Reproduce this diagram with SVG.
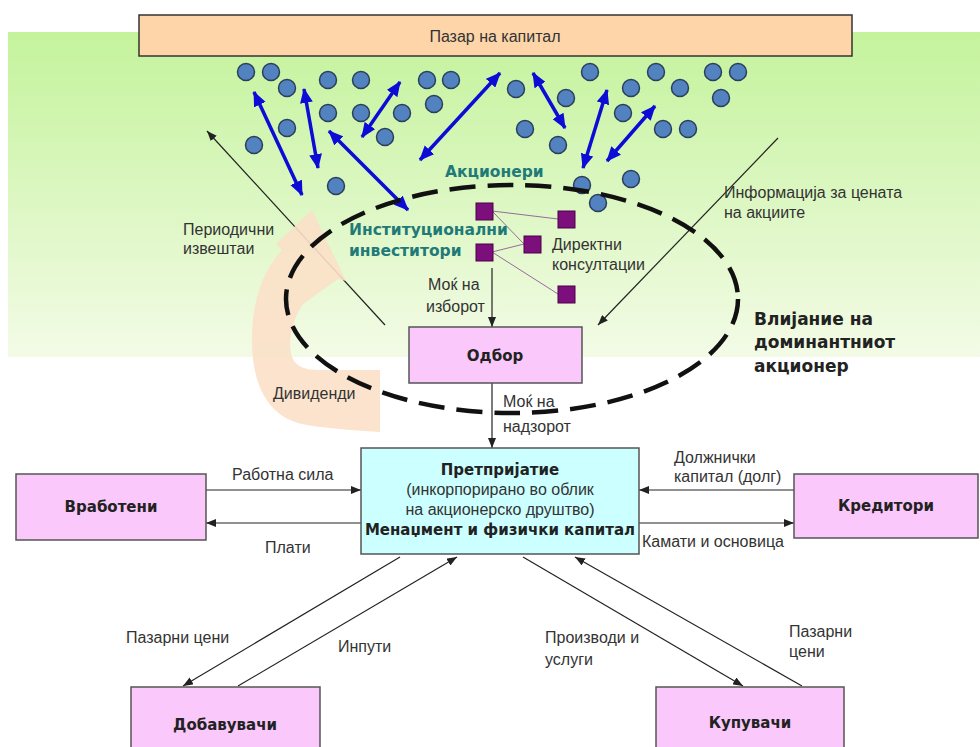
<svg xmlns="http://www.w3.org/2000/svg" width="980" height="747" viewBox="0 0 980 747">
<defs>
<linearGradient id="bg" x1="0" y1="0" x2="0" y2="1">
<stop offset="0" stop-color="#c4f39c"/>
<stop offset="1" stop-color="#f3fbe6"/>
</linearGradient>
<marker id="ah" viewBox="0 0 10 8" refX="10" refY="4" markerWidth="10" markerHeight="8" markerUnits="userSpaceOnUse" orient="auto">
<path d="M0,0 L10,4 L0,8 z" fill="#222"/>
</marker>
<marker id="bh" viewBox="0 0 14 12" refX="13" refY="6" markerWidth="15" markerHeight="13" markerUnits="userSpaceOnUse" orient="auto-start-reverse">
<path d="M0,0 L14,6 L0,12 z" fill="#0c0cd6"/>
</marker>
<style>
.box{stroke:#555;stroke-width:1.5}
.pink{fill:#fbc8fb}
.t{font-family:"Liberation Sans",Arial,sans-serif;font-size:16px;fill:#333}
.b{font-family:"DejaVu Sans",Verdana,sans-serif;font-weight:bold;font-size:15px;fill:#222}
.teal{font-family:"DejaVu Sans",Verdana,sans-serif;font-weight:bold;font-size:15.5px;fill:#1f7a78}
.thin{stroke:#222;stroke-width:1.2;fill:none;marker-end:url(#ah)}
.blue{stroke:#0c0cd6;stroke-width:3.5;fill:none;marker-start:url(#bh);marker-end:url(#bh)}
.sh circle{fill:#5282bf;stroke:#2b3f5c;stroke-width:1.5}
.sq{fill:#7d0f7d;stroke:#4a004a;stroke-width:1}
.pl{stroke:#9a6a9a;stroke-width:1}
</style>
</defs>
<rect x="0" y="0" width="980" height="747" fill="#fff"/>
<rect x="8" y="32" width="972" height="325" fill="url(#bg)"/>

<g id="capital-market">
<rect x="139" y="15" width="713" height="41" fill="#fdd5a9" stroke="#333" stroke-width="1.5"/>
<text class="t" x="495" y="42" text-anchor="middle">Пазар на капитал</text>
</g>

<g id="shareholders" class="sh">
<circle cx="246" cy="72" r="8.5"/><circle cx="271" cy="72" r="8.5"/><circle cx="287" cy="88" r="8.5"/>
<circle cx="328" cy="80" r="8.5"/><circle cx="361" cy="80" r="8.5"/><circle cx="427" cy="80" r="8.5"/>
<circle cx="451" cy="80" r="8.5"/><circle cx="328" cy="113" r="8.5"/><circle cx="361" cy="113" r="8.5"/>
<circle cx="402" cy="113" r="8.5"/><circle cx="434" cy="104" r="8.5"/><circle cx="287" cy="128" r="8.5"/>
<circle cx="254" cy="145" r="8.5"/><circle cx="385" cy="137" r="8.5"/><circle cx="336" cy="186" r="8.5"/>
<circle cx="590" cy="72" r="8.5"/><circle cx="656" cy="72" r="8.5"/><circle cx="713" cy="72" r="8.5"/>
<circle cx="738" cy="72" r="8.5"/><circle cx="516" cy="89" r="8.5"/><circle cx="566" cy="98" r="8.5"/>
<circle cx="631" cy="88" r="8.5"/><circle cx="680" cy="88" r="8.5"/><circle cx="721" cy="98" r="8.5"/>
<circle cx="623" cy="113" r="8.5"/><circle cx="525" cy="129" r="8.5"/><circle cx="663" cy="129" r="8.5"/>
<circle cx="688" cy="129" r="8.5"/><circle cx="558" cy="145" r="8.5"/><circle cx="631" cy="179" r="8.5"/>
<circle cx="582" cy="185" r="8.5"/><circle cx="598" cy="203" r="8.5"/>
</g>

<g id="connectors">
<line class="blue" x1="254" y1="92" x2="302" y2="195"/>
<line class="blue" x1="304" y1="89" x2="318" y2="168"/>
<line class="blue" x1="362" y1="137" x2="400" y2="82"/>
<line class="blue" x1="329" y1="131" x2="408" y2="210"/>
<line class="blue" x1="420" y1="160" x2="500" y2="73"/>
<line class="blue" x1="533" y1="73" x2="565" y2="128"/>
<line class="blue" x1="607" y1="90" x2="583" y2="168"/>
<line class="blue" x1="655" y1="106" x2="607" y2="161"/>
<line class="thin" x1="385" y1="325" x2="207" y2="131"/>
<line class="thin" x1="778" y1="138" x2="598" y2="325"/>
<line class="thin" x1="492" y1="268" x2="492" y2="327"/>
<line class="thin" x1="492" y1="383" x2="492" y2="448"/>
<line class="thin" x1="206" y1="490" x2="361" y2="490"/>
<line class="thin" x1="361" y1="523" x2="206" y2="523"/>
<line class="thin" x1="794" y1="490" x2="639" y2="490"/>
<line class="thin" x1="639" y1="523" x2="794" y2="523"/>
<line class="thin" x1="400" y1="557" x2="183" y2="686"/>
<line class="thin" x1="238" y1="686" x2="457" y2="557"/>
<line class="thin" x1="523" y1="557" x2="743" y2="686"/>
<line class="thin" x1="802" y1="686" x2="575" y2="557"/>
<line class="pl" x1="492" y1="211" x2="558" y2="219"/>
<line class="pl" x1="492" y1="211" x2="524" y2="244"/>
<line class="pl" x1="492" y1="252" x2="524" y2="244"/>
<line class="pl" x1="492" y1="252" x2="558" y2="294"/>
</g>

<g id="dividends-arrow">
<path d="M380,370 L380,432 C350,430 322,428 302,424 C268,416 252,385 252,340 C252,302 262,272 282,250 L276,244 L312,210 L346,281 L338,279 L303,304 C292,320 287,343 292,357 C296,367 305,370 320,370 Z" fill="#fbe0c8" fill-opacity="0.9"/>
</g>

<g id="institutional-investors">
<rect class="sq" x="476" y="203" width="17" height="17"/>
<rect class="sq" x="476" y="244" width="17" height="17"/>
<rect class="sq" x="524" y="236" width="17" height="17"/>
<rect class="sq" x="558" y="211" width="17" height="17"/>
<rect class="sq" x="558" y="286" width="17" height="17"/>
</g>

<g id="labels">
<text class="teal" x="445" y="177">Акционери</text>
<text class="teal" x="349" y="235">Институционални</text>
<text class="teal" x="349" y="256">инвеститори</text>
<text class="t" x="183" y="235">Периодични</text>
<text class="t" x="183" y="254">извештаи</text>
<text class="t" x="552" y="250">Директни</text>
<text class="t" x="552" y="270">консултации</text>
<text class="t" x="724" y="198">Информација за цената</text>
<text class="t" x="724" y="218">на акциите</text>
<text class="t" x="428" y="290">Моќ на</text>
<text class="t" x="426" y="312">изборот</text>
<text class="t" x="273" y="399">Дивиденди</text>
<text class="t" x="503" y="407">Моќ на</text>
<text class="t" x="503" y="432">надзорот</text>
<text class="b" x="754" y="325" style="font-size:17px">Влијание на</text>
<text class="b" x="754" y="348" style="font-size:17px">доминантниот</text>
<text class="b" x="754" y="372" style="font-size:17px">акционер</text>
<text class="t" x="232" y="480">Работна сила</text>
<text class="t" x="265" y="553">Плати</text>
<text class="t" x="674" y="463">Должнички</text>
<text class="t" x="674" y="482">капитал (долг)</text>
<text class="t" x="642" y="547">Камати и основица</text>
<text class="t" x="126" y="643">Пазарни цени</text>
<text class="t" x="338" y="652">Инпути</text>
<text class="t" x="545" y="643">Производи и</text>
<text class="t" x="545" y="665">услуги</text>
<text class="t" x="789" y="637">Пазарни</text>
<text class="t" x="789" y="657">цени</text>
</g>

<g id="dominant-influence">
<ellipse cx="512" cy="299" rx="226" ry="114" fill="none" stroke="#111" stroke-width="4.5" stroke-dasharray="26 12"/>
</g>

<g id="board">
<rect class="box pink" x="409" y="327" width="173" height="56"/>
<text class="b" x="495" y="361" text-anchor="middle">Одбор</text>
</g>

<g id="enterprise">
<rect class="box" x="361" y="448" width="278" height="106" fill="#ccffff"/>
<text class="b" x="500" y="475" text-anchor="middle">Претпријатие</text>
<text class="t" x="500" y="495" text-anchor="middle">(инкорпорирано во облик</text>
<text class="t" x="500" y="515" text-anchor="middle">на акционерско друштво)</text>
<text class="b" x="500" y="535" text-anchor="middle">Менаџмент и физички капитал</text>
</g>

<g id="employees">
<rect class="box pink" x="16" y="474" width="190" height="66"/>
<text class="b" x="111" y="512" text-anchor="middle">Вработени</text>
</g>

<g id="creditors">
<rect class="box pink" x="794" y="474" width="184" height="64"/>
<text class="b" x="886" y="511" text-anchor="middle">Кредитори</text>
</g>

<g id="suppliers">
<rect class="box pink" x="131" y="687" width="189" height="70"/>
<text class="b" x="225" y="730" text-anchor="middle">Добавувачи</text>
</g>

<g id="customers">
<rect class="box pink" x="656" y="687" width="188" height="70"/>
<text class="b" x="750" y="728" text-anchor="middle">Купувачи</text>
</g>
</svg>
